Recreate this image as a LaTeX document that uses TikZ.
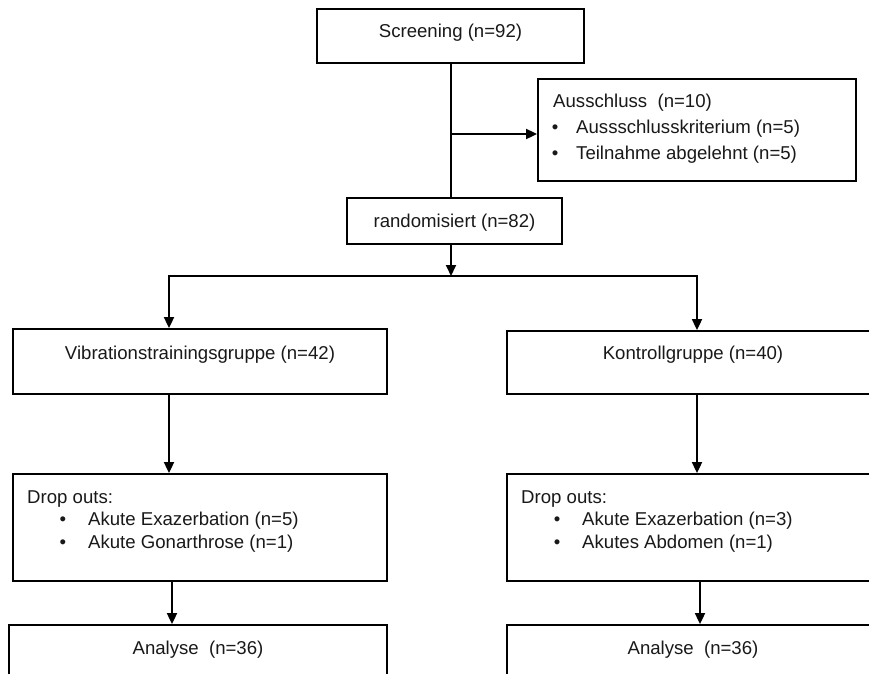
\documentclass[tikz,border=0pt]{standalone}
\usepackage{fontspec}
\setmainfont{Liberation Sans}
\usetikzlibrary{arrows.meta,calc}
\tikzset{
  box/.style={draw=black, line width=1.8pt, rectangle, inner sep=0pt, fill=white},
  txt/.style={inner sep=0pt, font=\fontsize{18.6}{22}\selectfont, text=black!90},
  conn/.style={line width=1.8pt, draw=black},
  arr/.style={conn, -{Triangle[length=11pt,width=10pt]}}
}
\begin{document}
\begin{tikzpicture}[x=1pt,y=-1pt]
\useasboundingbox (0,0) rectangle (869,673);
\clip (0,0) rectangle (869,673);
% boxes
\node[box, minimum width=267pt, minimum height=54pt] (scr) at (450.5,36) {};
\node[txt] (scrt) at (450.5,33) {Screening (n=92)};
\node[box, minimum width=318pt, minimum height=102pt] (aus) at (697,130) {};
\node[txt, anchor=west] (aust) at (553,103) {Ausschluss\ \ (n=10)};
\node[txt] (ausb1) at (555,129) {•};
\node[txt, anchor=west] (aus1) at (576,129) {Aussschlusskriterium (n=5)};
\node[txt] (ausb2) at (555,155) {•};
\node[txt, anchor=west] (aus2) at (576,155) {Teilnahme abgelehnt (n=5)};
\node[box, minimum width=215pt, minimum height=46pt] (rand) at (454.5,221) {};
\node[txt] (randt) at (454.5,223) {randomisiert (n=82)};
\node[box, minimum width=374pt, minimum height=65pt] (vib) at (200,361.5) {};
\node[txt] (vibt) at (200,355) {Vibrationstrainingsgruppe (n=42)};
\node[box, minimum width=374pt, minimum height=63pt] (kon) at (694,362.5) {};
\node[txt] (kont) at (693,355) {Kontrollgruppe (n=40)};
\node[box, minimum width=374pt, minimum height=107pt] (dv) at (200,527.5) {};
\node[txt, anchor=west] (dvt) at (27,499) {Drop outs:};
\node[txt] (dvb1) at (63,521) {•};
\node[txt, anchor=west] (dv1) at (88,521) {Akute Exazerbation (n=5)};
\node[txt] (dvb2) at (63,544) {•};
\node[txt, anchor=west] (dv2) at (88,544) {Akute Gonarthrose (n=1)};
\node[box, minimum width=374pt, minimum height=107pt] (dk) at (694,527.5) {};
\node[txt, anchor=west] (dkt) at (521,499) {Drop outs:};
\node[txt] (dkb1) at (557,521) {•};
\node[txt, anchor=west] (dk1) at (582,521) {Akute Exazerbation (n=3)};
\node[txt] (dkb2) at (557,544) {•};
\node[txt, anchor=west] (dk2) at (582,544) {Akutes Abdomen (n=1)};
\node[box, minimum width=378pt, minimum height=80pt] (av) at (198,665) {};
\node[txt] (avt) at (198,650) {Analyse\ \ (n=36)};
\node[box, minimum width=374pt, minimum height=80pt] (ak) at (694,665) {};
\node[txt] (akt) at (693,650) {Analyse\ \ (n=36)};
% guide coordinates
\coordinate (mx) at (451,0);
\coordinate (lx) at (169,0);
\coordinate (lx2) at (172,0);
\coordinate (rx) at (697,0);
\coordinate (rx2) at (700,0);
\coordinate (br) at (451,134);
\coordinate (split) at (451,276);
% connectors
\draw[conn] (scr.south -| mx) -- (rand.north -| mx);
\draw[arr] (br) -- (br -| aus.west);
\draw[arr] (rand.south -| mx) -- (split);
\draw[arr] (split) -| (vib.north -| lx);
\draw[arr] (split) -| (kon.north -| rx);
\draw[arr] (vib.south -| lx) -- (dv.north -| lx);
\draw[arr] (kon.south -| rx) -- (dk.north -| rx);
\draw[arr] (dv.south -| lx2) -- (av.north -| lx2);
\draw[arr] (dk.south -| rx2) -- (ak.north -| rx2);
\end{tikzpicture}
\end{document}
